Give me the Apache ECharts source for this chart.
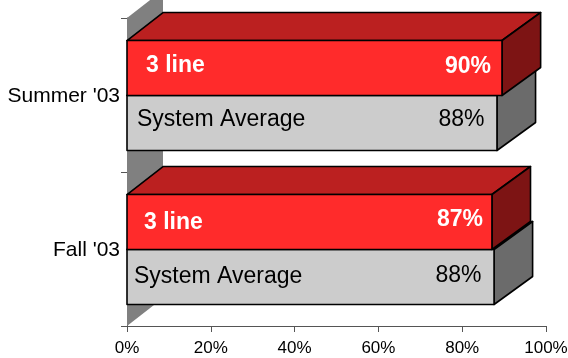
<!DOCTYPE html>
<html><head><meta charset="utf-8">
<style>html,body{margin:0;padding:0;background:#fff}#c{width:568px;height:358px}</style>
<script src="https://cdn.jsdelivr.net/npm/echarts@6/dist/echarts.min.js"></script>
</head><body><div id="c"></div>
<script>
const categories = ["Fall '03", "Summer '03"];
const xTicks = [0, 20, 40, 60, 80, 100];
const lineValues = [87.1, 89.5];
const lineLabels = ["87%", "90%"];
const lineName = "3 line";
const systemValues = [87.6, 88.3];
const systemLabels = ["88%", "88%"];
const systemName = "System Average";

const FONT = '"Liberation Sans", Arial, sans-serif';
const DX = 36, DY = 28, BACK_SCALE = 1.007;
const backX = (x, x0) => x0 + DX + (x - x0) * BACK_SCALE;

function box(x0, x1, top, bottom, cols) {
  const bx0 = x0 + DX, bx1 = backX(x1, x0);
  const line = { stroke: '#000', lineWidth: 1.6, lineJoin: 'round' };
  const poly = (points, fill) => ({ type: 'polygon', shape: { points }, style: Object.assign({ fill }, line) });
  return [
    poly([[x0, top], [bx0, top - DY], [bx1, top - DY], [x1, top]], cols.top),
    poly([[x1, top], [bx1, top - DY], [bx1, bottom - DY], [x1, bottom]], cols.side),
    poly([[x0, top], [x1, top], [x1, bottom], [x0, bottom]], cols.front)
  ];
}
function text(str, x, y, align, fill, weight, size) {
  return { type: 'text', style: { text: str, x, y, align, verticalAlign: 'middle', fill, font: `${weight} ${size}px ${FONT}` } };
}
function makeRender(part) {
  return function (params, api) {
    const i = api.value(0);
    const p0 = api.coord([0, i]);
    const p = api.coord([api.value(1), i]);
    const h = api.size([0, 1])[1] * 0.357;
    const cy = Math.round(p[1]) + 0.5;
    const x0 = p0[0];
    const isSummer = i === 1;
    let children;
    if (part === 'line') {
      children = box(x0, p[0], cy - h, cy, { top: '#bb2020', side: '#7d1414', front: '#ff2b2b' });
      const yt = cy - h / 2 - (isSummer ? 2 : -1);
      children.push(text(lineName, x0 + (isSummer ? 19 : 17), yt, 'left', '#fff', 'bold', 23));
      children.push(text(lineLabels[i], p[0] - (isSummer ? 11 : 9), cy - h / 2 - (isSummer ? 1 : 2.5), 'right', '#fff', 'bold', 23));
    } else {
      children = box(x0, p[0], cy, cy + h, { top: '#bb2020', side: '#6b6b6b', front: '#cccccc' });
      children.push(text(systemName, x0 + (isSummer ? 10 : 7), cy + h / 2 - (isSummer ? 3 : 0), 'left', '#000', 'normal', 23));
      children.push(text(systemLabels[i], p[0] - 12.5, cy + h / 2 - (isSummer ? 3 : 1), 'right', '#000', 'normal', 23));
    }
    return { type: 'group', children };
  };
}
function renderWall(params) {
  const c = params.coordSys;
  const points = [[c.x, c.y + c.height], [c.x + DX, c.y + c.height - DY], [c.x + DX, c.y - DY], [c.x, c.y]];
  return { type: 'polygon', shape: { points }, style: { fill: '#808080', stroke: null } };
}

const chart = echarts.init(document.getElementById('c'), null, { renderer: 'canvas' });
chart.setOption({
  animation: false,
  backgroundColor: '#fff',
  grid: { left: 127, right: 22, top: 18, bottom: 32, containLabel: false, outerBoundsMode: 'none' },
  xAxis: {
    type: 'value', min: 0, max: 100, interval: 20, position: 'bottom',
    splitLine: { show: false },
    axisLine: { show: true, lineStyle: { color: '#555', width: 1 } },
    axisTick: { show: true, length: 6, lineStyle: { color: '#555', width: 1 } },
    axisLabel: { formatter: v => xTicks.includes(v) ? v + '%' : '', color: '#000', fontFamily: FONT, fontSize: 17, margin: 14, hideOverlap: false }
  },
  yAxis: {
    type: 'category', data: categories,
    axisLine: { show: true, lineStyle: { color: '#555', width: 1 } },
    axisTick: { show: true, length: 6, alignWithLabel: false, lineStyle: { color: '#555', width: 1 } },
    axisLabel: {
      margin: 7,
      formatter: v => '{a|' + v + '}',
      rich: { a: { color: '#000', fontFamily: FONT, fontSize: 21, padding: [3, 0, 0, 0] } }
    }
  },
  series: [
    { type: 'custom', name: 'wall', z: 1, clip: false, renderItem: renderWall, data: [[0, 0]], encode: { x: 0, y: 1 } },
    { type: 'custom', name: systemName, z: 2, clip: false, renderItem: makeRender('system'), encode: { x: 1, y: 0 },
      data: systemValues.map((v, i) => [i, v]) },
    { type: 'custom', name: lineName, z: 3, clip: false, renderItem: makeRender('line'), encode: { x: 1, y: 0 },
      data: lineValues.map((v, i) => [i, v]) }
  ]
});
</script></body></html>
